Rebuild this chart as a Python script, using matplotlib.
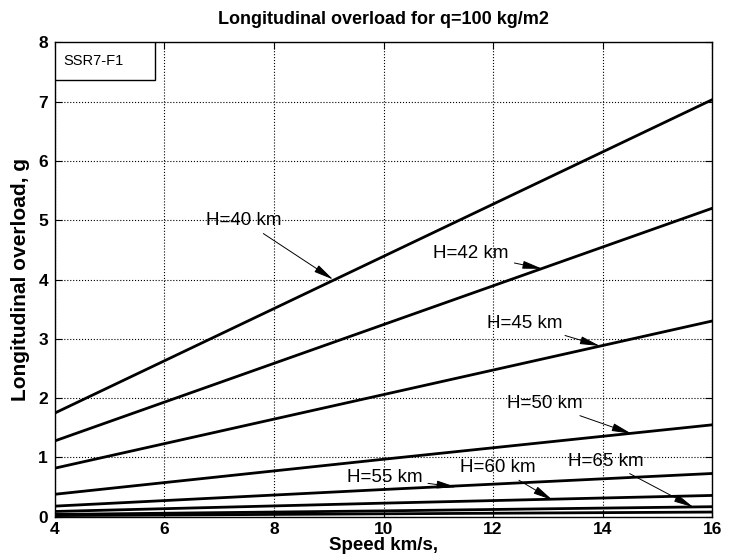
import numpy as np
import matplotlib.pyplot as plt
from matplotlib.patches import Rectangle

speed = [4, 10, 16]
h40 = [1.75, 4.39, 7.03]
h42 = [1.28, 3.24, 5.20]
h45 = [0.82, 2.06, 3.30]
h50 = [0.38, 0.97, 1.55]
h55 = [0.18, 0.46, 0.73]
h60 = [0.09, 0.23, 0.36]
h65 = [0.04, 0.10, 0.17]
h70 = [0.02, 0.05, 0.08]

labels = ["H=40 km", "H=42 km", "H=45 km", "H=50 km", "H=55 km", "H=60 km", "H=65 km"]
# arrow tip (on curve) and label centre, data coords
tips = [(9.08, 4.0), (12.9, 4.18), (13.95, 2.88), (14.53, 1.40), (11.33, 0.50), (13.09, 0.28), (15.66, 0.16)]
texts = [(7.45, 4.99), (11.6, 4.43), (12.58, 3.26), (12.95, 1.91), (10.02, 0.66), (12.08, 0.83), (14.06, 0.94)]

plt.rcParams['font.family'] = ['Liberation Sans', 'DejaVu Sans']

fig = plt.figure(figsize=(7.35, 5.59), dpi=100)
ax = fig.add_axes([0.0748, 0.0755, 0.894, 0.849])

for ys in [h40, h42, h45, h50, h55, h60, h65, h70]:
    ax.plot(speed, ys, color='k', lw=2.0)

for lab, tip, txt in zip(labels, tips, texts):
    ax.annotate(lab, xy=tip, xytext=txt, ha='center', va='center', fontsize=13.5,
                arrowprops=dict(arrowstyle='-|>,head_width=0.18,head_length=0.9',
                                color='k', lw=0.7, shrinkA=2, shrinkB=0))

ax.set_xlim(4, 16)
ax.set_ylim(0, 8)
ax.set_xticks(np.arange(4, 17, 2))
ax.set_yticks(np.arange(0, 9, 1))
ax.grid(True, linestyle=':', color='k', lw=0.8)
ax.tick_params(direction='in', top=True, right=True, labelsize=12.5, length=5)
ax.tick_params(axis='x', pad=4)
ax.tick_params(axis='y', pad=5)
for t in ax.get_xticklabels() + ax.get_yticklabels():
    t.set_fontweight('bold')
for s in ax.spines.values():
    s.set_linewidth(1.0)

ax.set_xlabel('Speed km/s,', fontsize=13.5, fontweight='bold', labelpad=0)
ax.set_ylabel('Longitudinal overload, g', fontsize=15, fontweight='bold', labelpad=6)
ax.set_title('Longitudinal overload for q=100 kg/m2', fontsize=13, fontweight='bold', pad=13)

ax.add_patch(Rectangle((0, 0.921), 0.152, 0.079, transform=ax.transAxes,
                       facecolor='white', edgecolor='k', lw=1.0, zorder=5))
ax.text(0.012, 0.96, 'SSR7-F1', transform=ax.transAxes, fontsize=10.5,
        va='center', ha='left', zorder=6)

fig.savefig('out.png', dpi=100)
